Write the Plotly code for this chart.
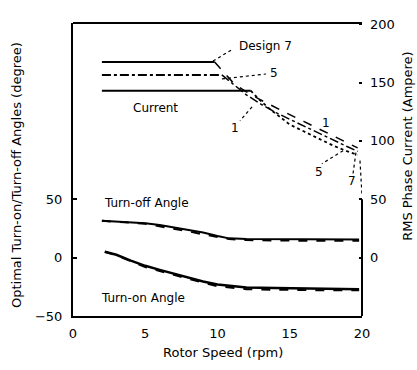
import plotly.graph_objects as go

# ---------------- data ----------------
# RMS phase current (A) vs rotor speed (rpm) for three designs
d7_flat_speed = [2, 9.8]
d7_flat_current = [167.5, 167.5]
d7_drop_speed = [9.8, 10.5, 11, 11.5, 12, 13, 14, 15, 16, 17, 18, 19, 19.7]
d7_drop_current = [167.5, 158, 151, 146, 142, 135, 128.5, 122.5, 116.5, 110.5, 104.5, 98.5, 94]

d5_flat_speed = [2, 10.3]
d5_flat_current = [156.5, 156.5]
d5_drop_speed = [10.3, 11, 11.5, 12, 13, 14, 15, 16, 17, 18, 19, 19.7]
d5_drop_current = [156.5, 149.5, 144.5, 139.5, 131.5, 124.5, 118.5, 112.5, 106.5, 100.5, 95, 91]

d1_flat_speed = [2, 12.3]
d1_flat_current = [143, 143]
d1_drop_speed = [12.3, 12.8, 13.5, 14, 15, 16, 17, 18, 19, 19.7]
d1_drop_current = [143, 136.5, 128.5, 123.5, 114, 108, 102, 96, 91, 88]

# optimal angles (degree)
toff_speed = [2, 3, 4, 5, 6, 7, 8, 9, 10, 10.8, 12, 14, 16, 18, 19.8]
toff_a = [31.5, 31, 30.5, 29.5, 28, 26, 24, 21.5, 18.5, 16.5, 16, 16, 15.5, 15.5, 15.5]
toff_b = [31.5, 31, 30, 29, 27, 25, 22.5, 20, 17.5, 16, 15, 14.5, 14.5, 14.5, 14.5]

ton_speed = [2.2, 3, 4, 5, 6, 7, 8, 9, 10, 11, 12, 14, 16, 18, 19.8]
ton_a = [5, 2.5, -2.5, -7, -10.5, -14, -17, -20.5, -23, -24.5, -25.5, -26, -26.5, -27, -27]
ton_b = [5, 2, -3, -8, -11.5, -15, -18.5, -21.5, -24.5, -26, -27, -27.5, -28, -28, -28]

x_ticks = [0, 5, 10, 15, 20]
left_ticks = [-50, 0, 50]
right_ticks = [0, 50, 100, 150, 200]

FONT = "DejaVu Sans"
BLACK = "#000000"

fig = go.Figure()

def line(x, y, dash="solid", width=2, axis="y"):
    fig.add_trace(go.Scatter(x=x, y=y, mode="lines", yaxis=axis,
                             line=dict(color=BLACK, width=width, dash=dash),
                             showlegend=False, hoverinfo="skip"))

# current curves (right axis)
line(d7_flat_speed, d7_flat_current, "solid", 2, "y2")
line(d7_drop_speed, d7_drop_current, "dash", 1.5, "y2")
line(d5_flat_speed, d5_flat_current, "dashdot", 2, "y2")
line(d5_drop_speed, d5_drop_current, "dashdot", 1.5, "y2")
line(d1_flat_speed, d1_flat_current, "solid", 2, "y2")
line(d1_drop_speed, d1_drop_current, "dot", 1.8, "y2")

# angle curves (left axis)
line(toff_speed, toff_a, "solid", 2)
line(toff_speed, toff_b, "dash", 2)
line(ton_speed, ton_a, "solid", 2.5)
line(ton_speed, ton_b, "dash", 2)

# ---------------- text labels ----------------
labels = [
    ("Design 7", 13.3, 181, "center"),
    ("5", 13.9, 158.2, "center"),
    ("Current", 5.7, 128.3, "center"),
    ("1", 11.2, 111, "center"),
    ("1", 17.5, 115.5, "center"),
    ("5", 17.0, 73, "center"),
    ("7", 19.3, 66, "center"),
    ("Turn-off Angle", 2.0, 46.4, "left"),
    ("Turn-on Angle", 1.8, -34.6, "left"),
]
for txt, x, y, anc in labels:
    fig.add_annotation(x=x, y=y, xref="x", yref="y", text=txt, showarrow=False,
                       xanchor=anc, yanchor="middle",
                       font=dict(family=FONT, size=12, color=BLACK))

leaders = [
    (9.69, 168.4, 11.07, 178.7),
    (10.31, 153.1, 13.36, 157.3),
    (12.39, 129.2, 11.56, 117.2),
    (18.69, 91.6, 17.23, 80.5),
    (19.58, 89.9, 19.38, 72),
    (19.86, 83.1, 20.0, 53.2),
]
for x0, y0, x1, y1 in leaders:
    fig.add_shape(type="line", xref="x", yref="y", x0=x0, y0=y0, x1=x1, y1=y1,
                  line=dict(color=BLACK, width=1.2, dash="dot"))

# frame pieces: top border and partial right border
fig.add_shape(type="line", xref="paper", yref="paper", x0=0, x1=1, y0=1, y1=1,
              line=dict(color=BLACK, width=2))
fig.add_shape(type="line", xref="paper", yref="y", x0=1, x1=1, y0=-50, y1=50,
              line=dict(color=BLACK, width=2))

# axis titles
fig.add_annotation(text="Optimal Turn-on/Turn-off Angles (degree)", xref="paper", yref="paper",
                   x=-0.195, y=0.48, textangle=-90, showarrow=False,
                   xanchor="center", yanchor="middle",
                   font=dict(family=FONT, size=13, color=BLACK))
fig.add_annotation(text="RMS Phase Current (Ampere)", xref="paper", yref="paper",
                   x=1.155, y=0.58, textangle=-90, showarrow=False,
                   xanchor="center", yanchor="middle",
                   font=dict(family=FONT, size=13, color=BLACK))
fig.add_annotation(text="Rotor Speed (rpm)", xref="paper", yref="paper",
                   x=0.52, y=-0.123, showarrow=False,
                   xanchor="center", yanchor="middle",
                   font=dict(family=FONT, size=13, color=BLACK))

fig.update_layout(
    width=417, height=370,
    margin=dict(l=73, r=55, t=23, b=54),
    paper_bgcolor="white", plot_bgcolor="white",
    font=dict(family=FONT, size=13, color=BLACK),
    showlegend=False,
    xaxis=dict(range=[0, 20], tickvals=x_ticks, showgrid=False, zeroline=False,
               showline=True, linecolor=BLACK, linewidth=2, ticks="", mirror=False,
               ticklabelstandoff=4),
    yaxis=dict(range=[-50, 201], tickvals=left_ticks, showgrid=False, zeroline=False,
               showline=True, linecolor=BLACK, linewidth=2, ticks="inside", ticklen=4,
               tickcolor=BLACK, tickwidth=2, ticklabelstandoff=6),
    yaxis2=dict(range=[-50, 201], tickvals=right_ticks, overlaying="y", side="right",
                showgrid=False, zeroline=False, showline=False, ticks="inside",
                ticklen=3, tickcolor=BLACK, tickwidth=2, ticklabelstandoff=7),
)

fig.write_html("out.html")
